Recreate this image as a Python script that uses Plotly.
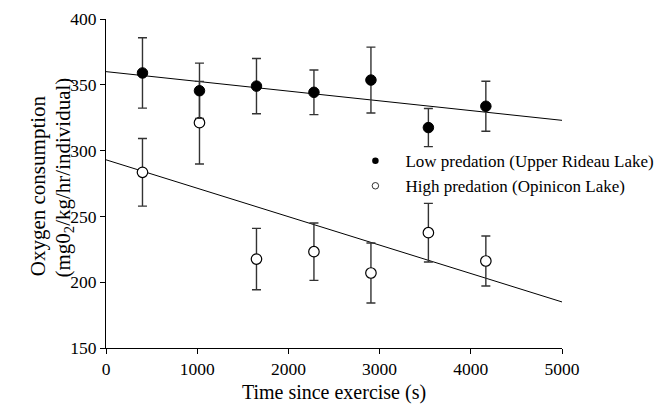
import plotly.graph_objects as go

# Data
time_s = [400, 1025, 1650, 2280, 2905, 3535, 4165]
low_mean = [359, 345.5, 349, 344.3, 353.6, 317.5, 333.7]
low_err = [26.7, 21, 21, 17, 25, 14.5, 19]
high_mean = [283.5, 321.2, 217.6, 223.2, 207, 237.6, 216.1]
high_err = [25.7, 31.4, 23.3, 21.8, 22.8, 22.3, 19]
fit_x = [0, 5000]
low_fit = [360, 323]
high_fit = [293, 185]

FONT = "Liberation Serif, Times New Roman, serif"
fig = go.Figure()

fig.add_trace(go.Scatter(x=fit_x, y=low_fit, mode="lines",
                         line=dict(color="black", width=1), showlegend=False, hoverinfo="skip"))
fig.add_trace(go.Scatter(x=fit_x, y=high_fit, mode="lines",
                         line=dict(color="black", width=1), showlegend=False, hoverinfo="skip"))

fig.add_trace(go.Scatter(
    x=time_s, y=high_mean, mode="markers", showlegend=False,
    error_y=dict(type="data", array=high_err, color="#333", thickness=1.4, width=4.5),
    marker=dict(symbol="circle", size=10.5, color="white", line=dict(color="black", width=1.2))))
fig.add_trace(go.Scatter(
    x=time_s, y=low_mean, mode="markers", showlegend=False,
    error_y=dict(type="data", array=low_err, color="#333", thickness=1.4, width=4.5),
    marker=dict(symbol="circle", size=10.5, color="black", line=dict(color="black", width=1))))

# legend entries
fig.add_trace(go.Scatter(x=[None], y=[None], mode="markers", name="Low predation (Upper Rideau Lake)",
                         marker=dict(symbol="circle", size=6.5, color="black")))
fig.add_trace(go.Scatter(x=[None], y=[None], mode="markers", name="High predation (Opinicon Lake)",
                         marker=dict(symbol="circle", size=6.5, color="white", line=dict(color="black", width=0.8))))

title_font = dict(family=FONT, size=21)
fig.update_layout(
    width=654, height=404,
    margin=dict(l=106, r=92, t=19, b=56, autoexpand=False),
    paper_bgcolor="white", plot_bgcolor="white",
    font=dict(family=FONT, color="black", size=17),
    legend=dict(x=0.525, y=0.53, xanchor="left", yanchor="middle", bgcolor="rgba(0,0,0,0)",
                font=dict(family=FONT, size=17), tracegroupgap=0, itemwidth=50),
    xaxis=dict(range=[0, 5000], tickvals=[0, 1000, 2000, 3000, 4000, 5000],
               showline=True, linecolor="black", linewidth=1, ticks="outside", ticklen=5,
               tickcolor="black", showgrid=False, zeroline=False,
               automargin=False, tickfont=dict(family=FONT, size=17.5),
               title=dict(text="Time since exercise (s)", font=dict(family=FONT, size=20))),
    yaxis=dict(range=[150, 400], tickvals=[150, 200, 250, 300, 350, 400],
               showline=True, linecolor="black", linewidth=1, ticks="outside", ticklen=5,
               tickcolor="black", showgrid=False, zeroline=False, automargin=False,
               tickfont=dict(family=FONT, size=17.5)),
    annotations=[
        dict(text="Oxygen consumption", xref="paper", yref="paper", x=-0.149, y=0.492,
             textangle=-90, xanchor="center", yanchor="middle", showarrow=False, font=title_font),
        dict(text="(mg0<sub>2</sub>/kg/hr/individual)", xref="paper", yref="paper", x=-0.093,
             y=0.517, textangle=-90, xanchor="center", yanchor="middle", showarrow=False,
             font=title_font),
    ],
)

fig.write_html("out.html")
